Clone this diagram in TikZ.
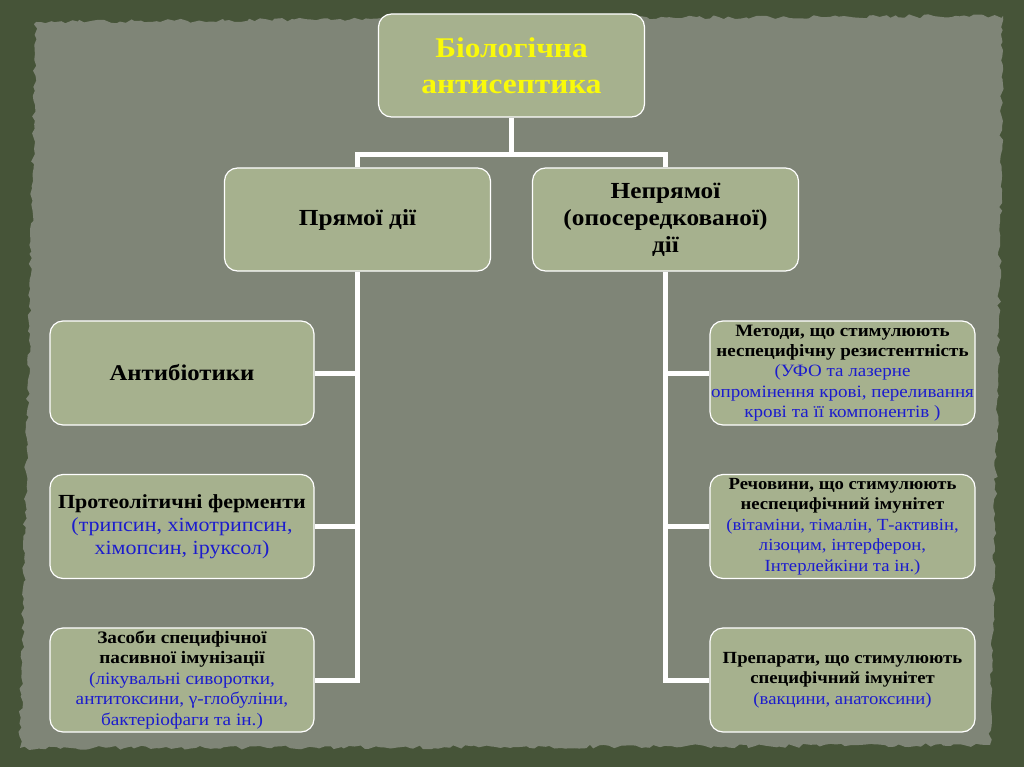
\documentclass[tikz,border=0pt]{standalone}
\usepackage{fontspec}
\setmainfont[FakeStretch=1.1]{Liberation Serif}
\usetikzlibrary{decorations.pathmorphing}
\definecolor{outerc}{RGB}{70,84,56}
\definecolor{paperc}{RGB}{127,133,119}
\definecolor{boxfill}{RGB}{166,177,142}
\definecolor{txtblue}{RGB}{28,28,205}
\definecolor{ttlyellow}{RGB}{250,250,10}
\newcommand\bluetxt[1]{{\color{txtblue}\mdseries #1}}
\begin{document}
\begin{tikzpicture}[x=1pt,y=-1pt,
 box/.style={draw=white, line width=1.2pt, fill=boxfill, rounded corners=13pt, align=center, inner sep=0pt, text=black},
 bigbox/.style={box, minimum width=266pt, minimum height=103pt},
 sidebox/.style={box, minimum width=264pt, minimum height=104pt},
 conn/.style={draw=white, line width=5pt}]
\useasboundingbox (0,0) rectangle (1024,767);
\fill[outerc] (0,0) rectangle (1024,767);
\fill[paperc, decorate, decoration={random steps, segment length=5pt, amplitude=2pt}]
  (36,22) -- (520,18) -- (1003,16) -- (998,380) -- (990,745) -- (520,747) -- (20,748) -- (28,380) -- cycle;

\node[bigbox, font=\bfseries\fontsize{28.5}{36}\selectfont, text=ttlyellow] (top) at (511.5,65.5) {Біологічна\\антисептика};
\node[bigbox, font=\bfseries\fontsize{23}{27}\selectfont] (pd) at (357.5,219.5) {Прямої дії};
\node[bigbox, font=\bfseries\fontsize{23}{27}\selectfont] (nd) at (665.5,219.5) {Непрямої\\(опосередкованої)\\дії};

\node[sidebox, font=\bfseries\fontsize{22.5}{26}\selectfont] (l1) at (182,373) {Антибіотики};
\node[sidebox, font=\bfseries\fontsize{20}{23}\selectfont] (l2) at (182,526.5) {Протеолітичні ферменти\\\bluetxt{(трипсин, хімотрипсин,}\\\bluetxt{хімопсин, іруксол)}};
\node[sidebox, font=\bfseries\fontsize{17.5}{20.5}\selectfont] (l3) at (182,680) {Засоби специфічної\\пасивної імунізації\\\bluetxt{(лікувальні сиворотки,}\\\bluetxt{антитоксини, γ-глобуліни,}\\\bluetxt{бактеріофаги та ін.)}};

\node[sidebox, minimum width=265pt, font=\bfseries\fontsize{17.3}{20.3}\selectfont] (r1) at (842.5,373) {Методи, що стимулюють\\неспецифічну резистентність\\\bluetxt{(УФО та лазерне}\\\bluetxt{опромінення крові, переливання}\\\bluetxt{крові та її компонентів )}};
\node[sidebox, minimum width=265pt, font=\bfseries\fontsize{17}{20.5}\selectfont] (r2) at (842.5,526.5) {Речовини, що стимулюють\\неспецифічний імунітет\\\bluetxt{(вітаміни, тімалін, Т-активін,}\\\bluetxt{лізоцим, інтерферон,}\\\bluetxt{Інтерлейкіни та ін.)}};
\node[sidebox, minimum width=265pt, font=\bfseries\fontsize{17}{20.5}\selectfont] (r3) at (842.5,680) {Препарати, що стимулюють\\специфічний імунітет\\\bluetxt{(вакцини, анатоксини)}};

\coordinate (j) at (511.5,155);
\draw[conn] (top.south) -- (j);
\draw[conn] (pd.north) -- (pd.north |- j) -- (nd.north |- j) -- (nd.north);
\draw[conn] (pd.south) -- (pd.south |- l3.east) -- (l3.east);
\draw[conn] (pd.south |- l1.east) -- (l1.east);
\draw[conn] (pd.south |- l2.east) -- (l2.east);
\draw[conn] (nd.south) -- (nd.south |- r3.west) -- (r3.west);
\draw[conn] (nd.south |- r1.west) -- (r1.west);
\draw[conn] (nd.south |- r2.west) -- (r2.west);
\end{tikzpicture}
\end{document}
